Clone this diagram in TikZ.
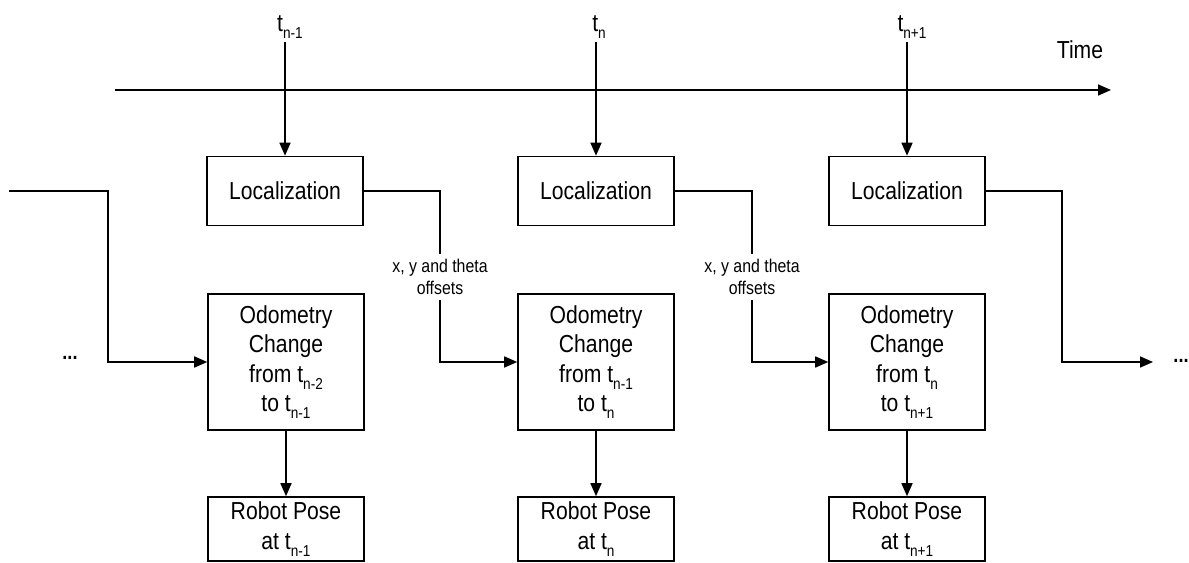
\documentclass[tikz,border=0pt]{standalone}
\usepackage{fontspec}
\setmainfont[FakeStretch=0.86]{Liberation Sans}
\usetikzlibrary{arrows.meta, positioning}

\newcommand{\tsub}[1]{t\raisebox{-4pt}{\fontsize{9}{9}\selectfont #1}}

\tikzset{
	blockbox/.style={draw, line width=0.9pt, minimum width=3.12cm, inner sep=2pt, align=center, font=\fontsize{14}{16.8}\selectfont},
	locbox/.style={blockbox, minimum height=1.38cm},
	odobox/.style={blockbox, minimum height=2.72cm},
	posebox/.style={blockbox, minimum height=1.28cm},
	flowline/.style={line width=0.9pt},
	flowarrow/.style={flowline, -{Triangle[length=0.26cm, width=0.22cm]}},
	offlabel/.style={align=center, inner sep=3pt, font=\fontsize{10.5}{12.6}\selectfont},
	timelabel/.style={inner sep=2pt, font=\fontsize{14}{16.8}\selectfont},
	dotslabel/.style={inner sep=1pt, font=\fontsize{12}{14}\selectfont\bfseries}
}

\begin{document}
\begin{tikzpicture}[x=0.02cm, y=-0.02cm]
			\useasboundingbox (0,0) rectangle (1189,563);
			% time axis
			\coordinate (axstart) at (115,90);
			\coordinate (axend) at (1111,90);
			\draw[flowarrow] (axstart) -- (axend);
			\node[timelabel] (timelbl) at (1080,50) {Time};
			\node[timelabel] (tl1) at (290,27) {\tsub{n-1}};
			\node[timelabel] (tl2) at (599,27) {\tsub{n}};
			\node[timelabel] (tl3) at (912,27) {\tsub{n+1}};
			% blocks
			\node[locbox] (loc1) at (285,191) {Localization};
			\node[locbox] (loc2) at (596,191) {Localization};
			\node[locbox] (loc3) at (907,191) {Localization};
			\node[odobox] (odo1) at (286,362) {Odometry\\Change\\from \tsub{n-2}\\to \tsub{n-1}};
			\node[odobox] (odo2) at (596,362) {Odometry\\Change\\from \tsub{n-1}\\to \tsub{n}};
			\node[odobox] (odo3) at (907,362) {Odometry\\Change\\from \tsub{n}\\to \tsub{n+1}};
			\node[posebox] (pose1) at (286,529) {Robot Pose\\at \tsub{n-1}};
			\node[posebox] (pose2) at (596,529) {Robot Pose\\at \tsub{n}};
			\node[posebox] (pose3) at (907,529) {Robot Pose\\at \tsub{n+1}};
			% offsets
			\node[offlabel] (off1) at (440,277) {x, y and theta\\offsets};
			\node[offlabel] (off2) at (752,277) {x, y and theta\\offsets};
			\node[dotslabel] (dotsL) at (70,358) {...};
			\node[dotslabel] (dotsR) at (1181,361) {...};
			\coordinate (inL) at (9,191);
			\coordinate (inBend) at (108,191);
			\coordinate (outEnd) at (1153,362);
			% connectors
			\draw[flowarrow] (loc1.north |- tl1.south) -- (loc1.north);
			\draw[flowarrow] (loc2.north |- tl2.south) -- (loc2.north);
			\draw[flowarrow] (loc3.north |- tl3.south) -- (loc3.north);
			\draw[flowarrow] (odo1) -- (pose1);
			\draw[flowarrow] (odo2) -- (pose2);
			\draw[flowarrow] (odo3) -- (pose3);
			\draw[flowline] (loc1.east) -| (off1.north);
			\draw[flowarrow] (off1.south) |- (odo2.west);
			\draw[flowline] (loc2.east) -| (off2.north);
			\draw[flowarrow] (off2.south) |- (odo3.west);
			\draw[flowarrow] (inL) -- (inBend) |- (odo1.west);
			\draw[flowarrow] (loc3.east) -- ++(76,0) |- (outEnd);
\end{tikzpicture}
\end{document}
